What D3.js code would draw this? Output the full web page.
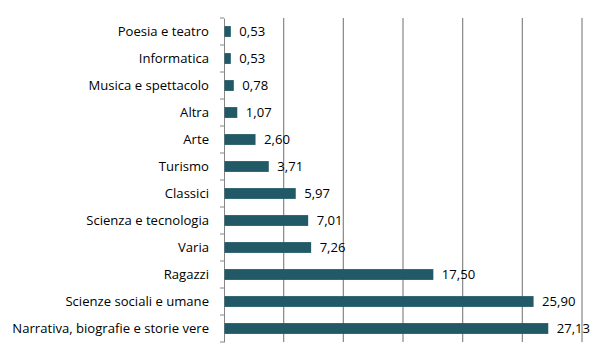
<!DOCTYPE html>
<html>
<head>
<meta charset="utf-8">
<script src="https://d3js.org/d3.v7.min.js"></script>
<style>
  body { margin: 0; background: #fff; }
  text { font-family: "Open Sans", "Liberation Sans", sans-serif; fill: #000; }
</style>
</head>
<body>
<script>
// categories top to bottom, with percent values
var categories = ["Poesia e teatro", "Informatica", "Musica e spettacolo", "Altra", "Arte",
  "Turismo", "Classici", "Scienza e tecnologia", "Varia", "Ragazzi",
  "Scienze sociali e umane", "Narrativa, biografie e storie vere"];
var values = [0.53, 0.53, 0.78, 1.07, 2.60, 3.71, 5.97, 7.01, 7.26, 17.50, 25.90, 27.13];
var gridTicks = [0, 5, 10, 15, 20, 25, 30];

var width = 600, height = 361;
var margin = {left: 224, top: 18, right: 18, bottom: 19};

var svg = d3.select("body").append("svg")
  .attr("width", width).attr("height", height);

var x = d3.scaleLinear().domain([0, 30]).range([margin.left, width - margin.right]);
var y = d3.scaleBand().domain(categories)
  .range([margin.top, height - margin.bottom])
  .paddingInner(0.6).paddingOuter(0.3);

// vertical gridlines
svg.append("g").selectAll("line")
  .data(gridTicks.slice(1))
  .enter().append("line")
  .attr("x1", function(d) { return x(d); })
  .attr("x2", function(d) { return x(d); })
  .attr("y1", margin.top).attr("y2", height - margin.bottom)
  .attr("stroke", "#868686").attr("stroke-width", 1.2);

// category axis
var yAxis = d3.axisLeft(y).tickSize(0).tickPadding(15);
var gy = svg.append("g").attr("transform", "translate(" + x(0) + ",0)").call(yAxis);
gy.select(".domain").attr("stroke", "#868686");
gy.selectAll("text").style("font-size", "13.1px");

// tick marks on the band boundaries
var bounds = d3.range(categories.length + 1).map(function(i) {
  return margin.top + i * (height - margin.bottom - margin.top) / categories.length;
});
svg.append("g").selectAll("line")
  .data(bounds).enter().append("line")
  .attr("x1", x(0) - 4).attr("x2", x(0))
  .attr("y1", function(d) { return d; }).attr("y2", function(d) { return d; })
  .attr("stroke", "#868686");

// bars
svg.append("g").selectAll("rect")
  .data(values).enter().append("rect")
  .attr("x", x(0) + 0.5)
  .attr("y", function(d, i) { return y(categories[i]); })
  .attr("width", function(d) { return x(d) - x(0); })
  .attr("height", y.bandwidth())
  .attr("fill", "#215967");

// value labels
svg.append("g").selectAll("text")
  .data(values).enter().append("text")
  .attr("x", function(d) { return x(d) + 9; })
  .attr("y", function(d, i) { return y(categories[i]) + y.bandwidth() / 2; })
  .attr("dy", "0.35em")
  .style("font-size", "13.1px")
  .text(function(d) { return d.toFixed(2).replace(".", ","); });
</script>
</body>
</html>
